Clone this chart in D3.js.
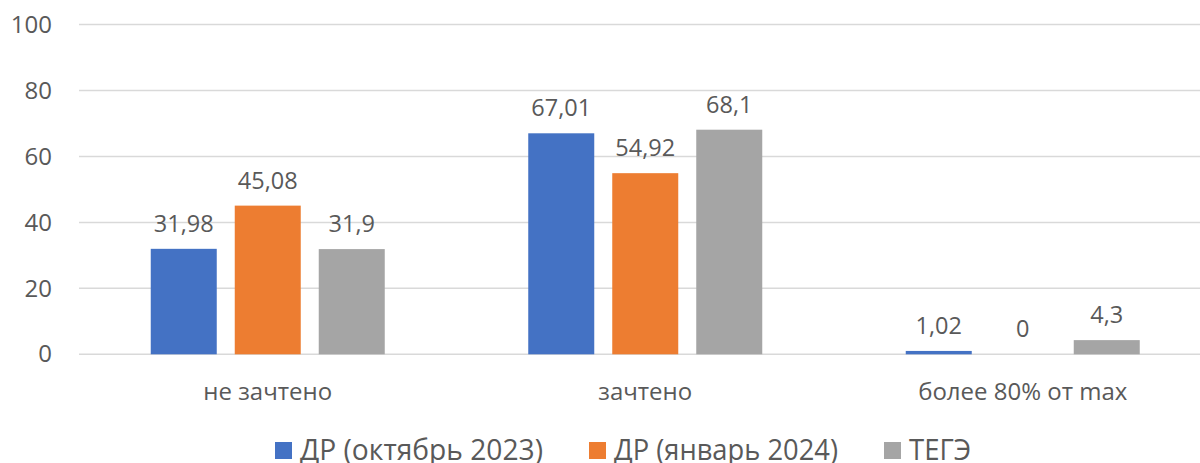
<!DOCTYPE html>
<html>
<head>
<meta charset="utf-8">
<script src="https://cdn.jsdelivr.net/npm/d3@7"></script>
<style>
  body { margin: 0; background: #fff; }
  text { font-family: "Open Sans", sans-serif; fill: #595959; }
</style>
</head>
<body>
<div id="chart"></div>
<script>
const categories = ['не зачтено', 'зачтено', 'более 80% от max'];
const series = ['ДР (октябрь 2023)', 'ДР (январь 2024)', 'ТЕГЭ'];
const octValues = [31.98, 67.01, 1.02];
const janValues = [45.08, 54.92, 0];
const tegeValues = [31.9, 68.1, 4.3];
const valueLabels = [
  ['31,98', '67,01', '1,02'],
  ['45,08', '54,92', '0'],
  ['31,9', '68,1', '4,3']
];
const yTicks = [0, 20, 40, 60, 80, 100];
const colors = ['#4472C4', '#ED7D31', '#A5A5A5'];

const width = 1200;
const height = 463;

const svg = d3.select('#chart')
  .append('svg')
  .attr('width', width)
  .attr('height', height);

const yScale = d3.scaleLinear()
  .domain([0, 100])
  .range([354.3, 24.5]);

const x0 = d3.scaleBand()
  .domain(categories)
  .range([79, 1211.5]);

// bars 66px wide, 18px apart, centred in each category
const groupW = 234;
const pad = (x0.bandwidth() - groupW) / 2;
const x1 = d3.scaleBand()
  .domain(series)
  .range([pad, pad + groupW])
  .paddingInner(18 / 84);

// gridlines
svg.append('g')
  .selectAll('line')
  .data(yTicks)
  .enter().append('line')
  .attr('x1', 79)
  .attr('x2', width)
  .attr('y1', d => yScale(d))
  .attr('y2', d => yScale(d))
  .attr('stroke', '#D9D9D9')
  .attr('stroke-width', 1.5);

// y axis labels
const yAxis = d3.axisLeft(yScale).tickValues(yTicks).tickSize(0).tickPadding(0);
const gY = svg.append('g')
  .attr('transform', 'translate(52,0)')
  .call(yAxis);
gY.select('.domain').remove();
gY.selectAll('text')
  .style('font-family', '"Open Sans", sans-serif')
  .style('font-size', '24px')
  .attr('fill', '#595959');

const allValues = [octValues, janValues, tegeValues];

const groups = svg.selectAll('.group')
  .data(categories)
  .enter().append('g')
  .attr('class', 'group')
  .attr('transform', d => `translate(${x0(d)},0)`);

series.forEach((s, si) => {
  groups.append('rect')
    .attr('x', x1(s))
    .attr('width', x1.bandwidth())
    .attr('y', (d, ci) => yScale(allValues[si][ci]))
    .attr('height', (d, ci) => yScale(0) - yScale(allValues[si][ci]))
    .attr('fill', colors[si]);

  groups.append('text')
    .attr('x', x1(s) + x1.bandwidth() / 2)
    .attr('y', (d, ci) => yScale(allValues[si][ci]) - 17)
    .attr('text-anchor', 'middle')
    .style('font-size', '23.5px')
    .text((d, ci) => valueLabels[si][ci]);
});

// category labels
const xAxis = d3.axisBottom(x0).tickSize(0).tickPadding(0);
const gX = svg.append('g')
  .attr('transform', 'translate(0,400)')
  .call(xAxis);
gX.select('.domain').remove();
gX.selectAll('text')
  .attr('dy', 0)
  .style('font-family', '"Open Sans", sans-serif')
  .style('font-size', '24px')
  .attr('fill', '#595959');

// legend
const legendX = [275, 589, 884];
const legendW = [243, 224, 62];
const legend = svg.append('g');
series.forEach((s, i) => {
  legend.append('rect')
    .attr('x', legendX[i])
    .attr('y', 442)
    .attr('width', 17)
    .attr('height', 17)
    .attr('fill', colors[i]);
  legend.append('text')
    .attr('x', legendX[i] + 25)
    .attr('y', 460)
    .style('font-size', '30px')
    .attr('textLength', legendW[i])
    .attr('lengthAdjust', 'spacingAndGlyphs')
    .text(s);
});
</script>
</body>
</html>
